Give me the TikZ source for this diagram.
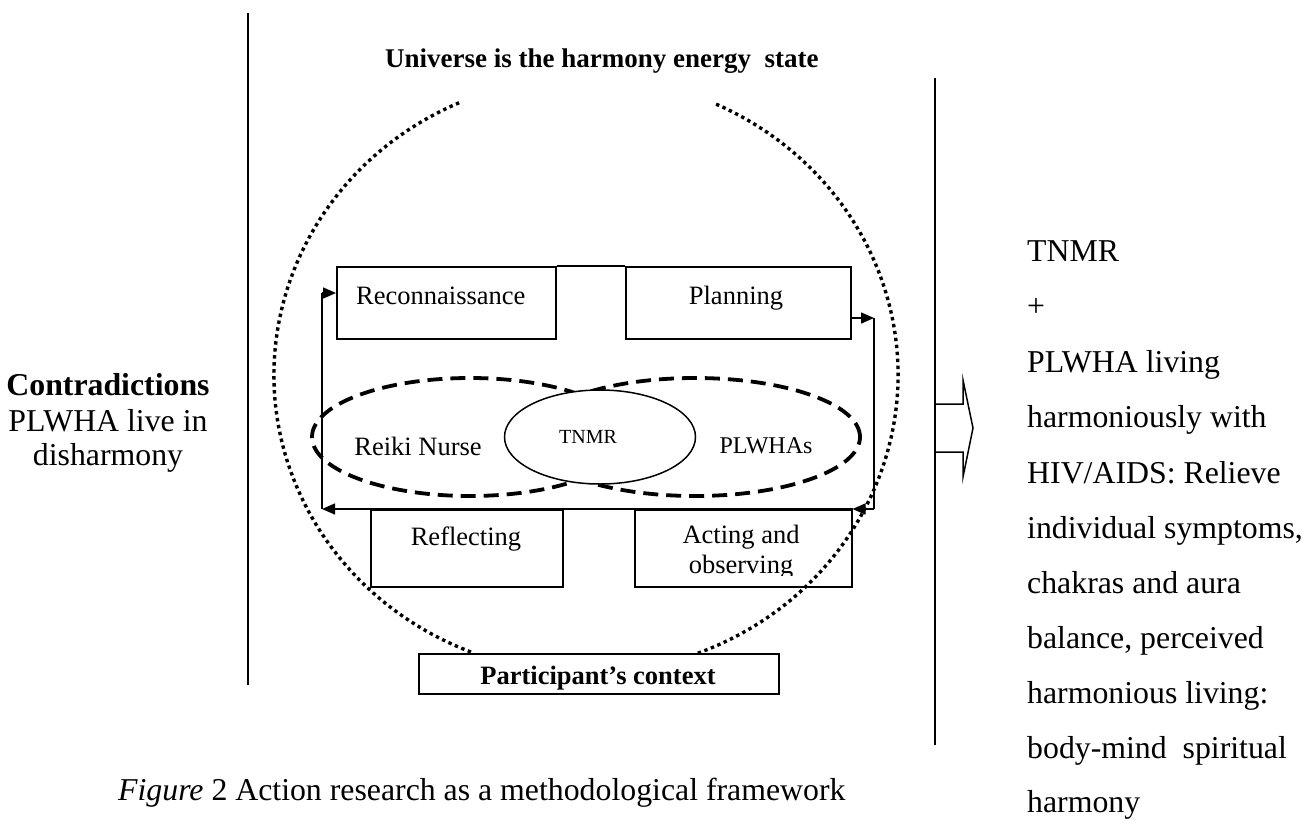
\documentclass[tikz,border=0pt]{standalone}
\usepackage{fontspec}
\setmainfont{Liberation Serif}
\usetikzlibrary{arrows.meta,shapes.geometric,calc}
\begin{document}
\begin{tikzpicture}[x=1pt,y=-1pt,
  rule/.style={line width=1.5pt},
  stagebox/.style={draw, line width=1.5pt, inner sep=0pt, anchor=north west},
  flow/.style={line width=1.5pt},
  tipped/.style={flow, -{Triangle[length=13pt,width=11pt]}},
  dots/.style={line width=3.4pt, dash pattern=on 3.4pt off 3.6pt},
  lobe/.style={draw, ellipse, line width=3.8pt, dash pattern=on 15pt off 8pt, inner sep=0pt},
  small/.style={font=\fontsize{26.5}{30}\selectfont, inner sep=0pt, anchor=base},
  smallbold/.style={small, font=\fontsize{26.5}{30}\selectfont\bfseries},
  big/.style={font=\fontsize{31.8}{36}\selectfont, inner sep=0pt, anchor=base},
  resultline/.style={big, anchor=base west},
]
\useasboundingbox (0,0) rectangle (1306,819);

% side rules
\draw[rule] (248,13) -- (248,685);
\draw[rule] (935,78) -- (935,745);

% heading
\node[smallbold, anchor=base west, font=\fontsize{27}{30}\selectfont\bfseries] (title) at (385,67) {Universe is the harmony energy\ \ state};

% dotted universe boundary, open at top and bottom
\coordinate (uc) at (586,375);
\draw[dots] ($(uc)+(114:312pt and 298pt)$) arc[start angle=114, end angle=249, x radius=312pt, y radius=298pt];
\draw[dots] ($(uc)+(-69:312pt and 298pt)$) arc[start angle=-69, end angle=66, x radius=312pt, y radius=298pt];

% cycle stages
\node[stagebox, minimum width=219pt, minimum height=72pt] (rec) at (336,266) {};
\node[stagebox, minimum width=225pt, minimum height=72pt] (plan) at (625,266) {};
\node[stagebox, minimum width=192pt, minimum height=77pt] (refl) at (370,509) {};
\node[stagebox, minimum width=217pt, minimum height=77pt] (act) at (634,509) {};
\node[small, anchor=base west] (recT) at (356,304) {Reconnaissance};
\node[small] (planT) at (736,304) {Planning};
\node[small] (reflT) at (466,545) {Reflecting};
\node[small] (actT) at (741,543) {Acting and};
\begin{scope}
  \clip (act.north west) rectangle (851,575);
  \node[small] (actT2) at (741,573) {observing};
\end{scope}

% participants: nurse and PLWHAs around TNMR
\node[lobe, minimum width=316pt, minimum height=118pt] (nurse) at (470,437) {};
\node[lobe, minimum width=330pt, minimum height=118pt] (plwha) at (695,437) {};
\node[draw, ellipse, fill=white, line width=1.5pt, minimum width=191pt, minimum height=94pt, inner sep=0pt] (core) at (600,437) {};
\node[small] (nurseT) at (418,455) {Reiki Nurse};
\node[small, font=\fontsize{20}{24}\selectfont] (coreT) at (588,443) {TNMR};
\node[small, font=\fontsize{24}{28}\selectfont] (plwhaT) at (766,453) {PLWHAs};

% cycle connectors
\coordinate (ne) at (874,318);
\coordinate (se) at (874,509);
\coordinate (sw) at (322,509);
\coordinate (nw) at (322,293);
\draw[flow] (rec.north east) -- (plan.north west);
\draw[tipped] (plan.east |- ne) -- (ne);
\draw[flow] (ne) -- (se);
\draw[tipped] (se) -- (act.north east);
\draw[tipped] (act.north east) -- (sw);
\draw[flow] (sw) -- (nw);
\draw[tipped] (nw) -- (nw -| rec.west);

% context box
\node[stagebox, minimum width=360pt, minimum height=40pt] (ctx) at (418,653) {};
\node[smallbold] (ctxT) at (598,684) {Participant’s context};

% left statement
\node[big, font=\fontsize{31.8}{36}\selectfont\bfseries] (l1) at (108,395) {Contradictions};
\node[big] (l2) at (108,431) {PLWHA live in};
\node[big] (l3) at (108,465) {disharmony};

% outcome arrow
\draw[rule] (935,404) -- (963,404) -- (963,380) -- (973,428) -- (963,477) -- (963,452) -- (935,452);

% outcome statement
\node[resultline] (o1) at (1027,261) {TNMR};
\node[resultline] (o2) at (1027,316) {+};
\node[resultline] (o3) at (1027,372) {PLWHA living};
\node[resultline] (o4) at (1027,427) {harmoniously with};
\node[resultline] (o5) at (1027,483) {HIV/AIDS: Relieve};
\node[resultline] (o6) at (1027,538) {individual symptoms,};
\node[resultline] (o7) at (1027,593) {chakras and aura};
\node[resultline] (o8) at (1027,648) {balance, perceived};
\node[resultline] (o9) at (1027,703) {harmonious living:};
\node[resultline] (o10) at (1027,758) {body-mind\ \ spiritual};
\node[resultline] (o11) at (1027,812) {harmony};

% caption
\node[resultline] (cap) at (118,800) {\textit{Figure} 2 Action research as a methodological framework};
\end{tikzpicture}
\end{document}
